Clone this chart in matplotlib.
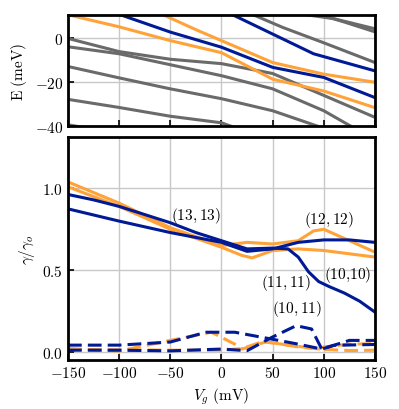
import matplotlib
matplotlib.use("Agg")
import matplotlib.pyplot as plt
from matplotlib.ticker import FuncFormatter

plt.rcParams['mathtext.fontset'] = 'cm'
plt.rcParams['font.family'] = 'serif'
plt.rcParams['font.serif'] = ['DejaVu Serif']

orange = '#ffa238'
blue = '#001a96'
gray = '#6a6a6a'

# ---- top panel: energy levels E (meV) vs Vg (mV)
gray_levels = [
    ([-150, -100, -50, 0, 50, 100, 150], [0.0, -6.0, -9.5, -11.5, -16.0, -26.0, -36.0]),
    ([-150, -100, -50, 0, 50, 100, 130], [-3.8, -7.0, -12.0, -17.0, -23.0, -33.0, -41.0]),
    ([-150, -100, -50, 0, 50, 100], [-12.8, -18.0, -23.0, -27.5, -33.0, -41.0]),
    ([-150, -100, -50, 0, 15], [-27.8, -31.5, -35.5, -38.5, -41.0]),
    ([-150, -130], [-39.4, -41.0]),
    ([30, 60, 100, 150], [11.0, 5.0, -2.0, -11.0]),
    ([80, 110, 150], [11.0, 9.0, 4.4]),
    ([95, 120, 150], [11.0, 7.5, 3.0]),
]
orange_levels = [
    ([-150, -100, -50, 0, 50, 100, 150], [10.8, 5.3, -1.0, -6.5, -18.6, -24.0, -31.6]),
    ([-57, -25, 0, 50, 100, 150], [10.8, 4.0, -1.0, -11.0, -16.3, -20.0]),
]
blue_levels = [
    ([-100, -50, 0, 50, 100, 150], [11.0, 2.9, -4.0, -13.2, -17.8, -27.0]),
    ([10, 50, 90, 150], [11.0, 2.0, -7.0, -14.8]),
]

# ---- bottom panel: gamma / gamma_o vs Vg (mV)
vg_b1 = [-150, -125, -100, -75, -50, -25, 0, 25, 50, 65, 75, 85, 95, 105, 120, 135, 150]
g_b1 = [0.963, 0.93, 0.89, 0.84, 0.79, 0.73, 0.68, 0.63, 0.635, 0.63, 0.58, 0.49, 0.43, 0.40, 0.36, 0.31, 0.243]
vg_b2 = [-150, -100, -50, 0, 25, 50, 75, 100, 125, 150]
g_b2 = [0.875, 0.80, 0.73, 0.67, 0.615, 0.63, 0.67, 0.685, 0.685, 0.67]
vg_o1 = [-150, -100, -50, 0, 25, 50, 75, 90, 100, 125, 150]
g_o1 = [1.04, 0.91, 0.76, 0.65, 0.67, 0.66, 0.68, 0.74, 0.75, 0.68, 0.61]
vg_o2 = [-150, -100, -50, 0, 20, 30, 50, 75, 100, 125, 150]
g_o2 = [1.01, 0.89, 0.75, 0.64, 0.59, 0.575, 0.62, 0.63, 0.62, 0.60, 0.58]

vg_db1 = [-150, -100, -50, -15, 13, 49, 75, 98, 110, 150]
g_db1 = [0.041, 0.041, 0.06, 0.12, 0.12, 0.078, 0.047, 0.017, 0.04, 0.045]
vg_db2 = [-150, -100, -50, 0, 25, 49, 73, 88, 98, 125, 150]
g_db2 = [0.01, 0.01, 0.006, 0.017, 0.007, 0.088, 0.16, 0.14, 0.017, 0.07, 0.07]
vg_do1 = [-150, -100, -50, -10, -6, 13, 20, 43, 59, 95, 100, 125, 150]
g_do1 = [0.02, 0.005, 0.07, 0.12, 0.108, 0.047, 0.017, 0.06, 0.047, 0.017, 0.03, 0.047, 0.05]
vg_do2 = [-150, -100, -50, 0, 20, 41, 75, 100, 125, 150]
g_do2 = [0.015, 0.012, 0.01, 0.01, 0.02, 0.064, 0.03, 0.015, 0.008, 0.01]

labels = [r'$(13,13)$', r'$(12,12)$', r'$(11,11)$', r'$(10{,}10)$', r'$(10,11)$']
label_pos = [(-25, 0.835), (105, 0.816), (63, 0.43), (123, 0.477), (74, 0.27)]

fig = plt.figure(figsize=(3.99, 4.10), dpi=100)
a1 = fig.add_axes([0.1704, 0.690, 0.7694, 0.271])
a2 = fig.add_axes([0.1704, 0.1195, 0.7694, 0.544])

lw = 2.2
dash = (0, (4.5, 2))
for x, y in gray_levels:
    a1.plot(x, y, color=gray, lw=lw)
for x, y in orange_levels:
    a1.plot(x, y, color=orange, lw=lw)
for x, y in blue_levels:
    a1.plot(x, y, color=blue, lw=lw)

a2.plot(vg_o1, g_o1, color=orange, lw=lw)
a2.plot(vg_o2, g_o2, color=orange, lw=lw)
a2.plot(vg_b1, g_b1, color=blue, lw=lw)
a2.plot(vg_b2, g_b2, color=blue, lw=lw)
a2.plot(vg_do1, g_do1, color=orange, lw=lw, ls=dash)
a2.plot(vg_do2, g_do2, color=orange, lw=lw, ls=dash)
a2.plot(vg_db1, g_db1, color=blue, lw=lw, ls=dash)
a2.plot(vg_db2, g_db2, color=blue, lw=lw, ls=dash)

for t, (x, y) in zip(labels, label_pos):
    a2.text(x, y, t, ha='center', va='center', fontsize=11)

fmt_int = FuncFormatter(lambda v, p: '$%g$' % v)
fmt_1 = FuncFormatter(lambda v, p: '$%.1f$' % v)

for a in (a1, a2):
    a.set_xlim(-150, 150)
    a.set_xticks([-150, -100, -50, 0, 50, 100, 150])
    a.grid(color='#c8c8c8', lw=1.0)
    a.set_axisbelow(True)
    a.tick_params(direction='in', length=4, width=1.2, labelsize=11, top=False, right=False)
    for s in a.spines.values():
        s.set_linewidth(2)

a1.set_ylim(-40, 10.7)
a1.set_yticks([-40, -20, 0])
a1.yaxis.set_major_formatter(fmt_int)
a1.set_xticklabels([])
a1.set_ylabel(r'$\mathrm{E\ (meV)}$', fontsize=11)

a2.set_ylim(-0.05, 1.315)
a2.set_yticks([0.0, 0.5, 1.0])
a2.yaxis.set_major_formatter(fmt_1)
a2.xaxis.set_major_formatter(fmt_int)
a2.set_ylabel(r'$\gamma/\gamma_o$', fontsize=11)
a2.set_xlabel(r'$V_g\ \mathrm{(mV)}$', fontsize=11)

plt.savefig('out.png', dpi=100)
